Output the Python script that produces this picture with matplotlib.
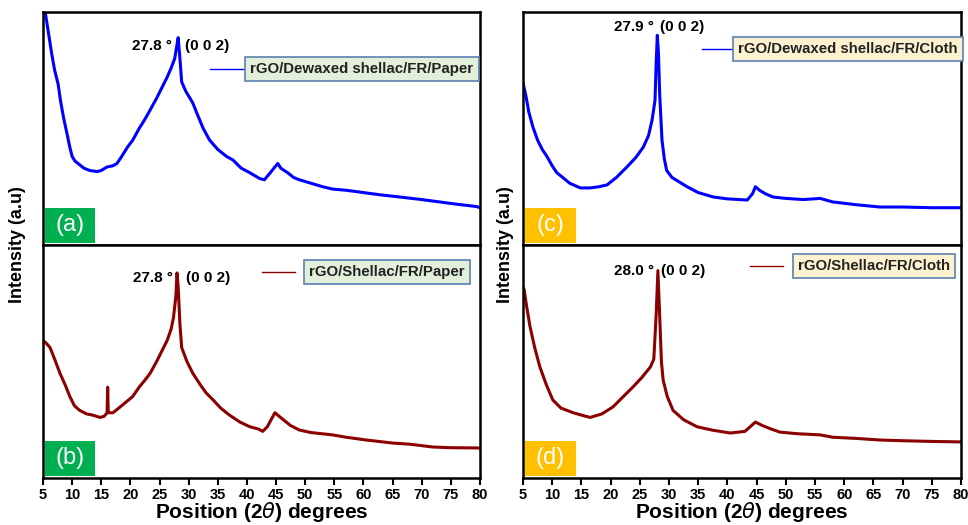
import numpy as np
import matplotlib
matplotlib.use("Agg")
import matplotlib.pyplot as plt
from matplotlib.patches import Rectangle
from matplotlib.lines import Line2D

plt.rcParams['font.family'] = ['Liberation Sans', 'DejaVu Sans']

# (a) rGO/Dewaxed shellac/FR/Paper
x_a = [5.0, 5.5, 6.0, 6.5, 7.0, 7.6, 8.0, 8.5, 9.1, 9.6, 10.0, 10.5, 11.0, 12.0, 13.0, 14.3, 15.0,
       16.0, 17.0, 17.7, 18.5, 19.5, 20.4, 21.5, 22.5, 23.4, 24.5, 25.5, 26.3, 27.0, 27.6,
       28.0, 28.2, 28.5, 28.8, 29.5, 30.7, 31.5, 32.5, 33.6, 35.0, 36.5, 37.6, 39.0, 40.5, 42.2,
       43.0, 44.0, 44.8, 45.3, 45.8, 47.0, 48.0, 49.0, 51.0, 53.0, 54.7, 57.0, 60.0, 63.0, 66.2,
       70.0, 73.0, 76.0, 79.4, 80.0]
y_a = [110, 98, 90, 82, 75, 69, 62, 55, 48, 42, 38, 36, 35, 33, 32, 31.5, 32,
       33.5, 34, 35, 38, 42, 45, 50, 54, 58, 63, 68, 72, 76, 80,
       86, 89, 80, 70, 66, 61, 56, 50, 45, 41, 38, 36.5, 33, 31, 28.5,
       28, 31, 33.5, 35, 33, 31, 29, 28, 26.5, 25, 24, 23.5, 22.5, 21.5, 20.6,
       19.5, 18.5, 17.5, 16.5, 16]

# (b) rGO/Shellac/FR/Paper
x_b = [5.0, 5.5, 6.2, 7.0, 7.9, 8.8, 9.6, 10.4, 11.3, 12.5, 13.5, 14.8, 15.5, 16.0, 16.1, 16.2,
       17.0, 18.0, 19.2, 20.4, 21.5, 22.5, 23.4, 24.5, 25.5, 26.3, 27.0, 27.4, 27.8, 28.0, 28.2,
       28.5, 28.8, 29.7, 30.7, 32.0, 33.0, 34.2, 35.5, 37.0, 38.8, 40.5, 42.0, 42.7, 43.5, 44.8,
       46.0, 47.5, 49.0, 51.0, 54.7, 57.0, 60.5, 65.0, 68.0, 71.9, 75.0, 79.6, 80.0]
y_b = [59, 58, 56, 51, 45, 40, 35, 31, 29, 27.5, 27, 26, 26.5, 28, 39, 28,
       28, 30, 32.5, 35, 39, 42, 45, 50, 55, 59, 64, 69, 78, 88, 82,
       66, 56, 50, 45, 40, 36.5, 33.5, 30, 27, 24, 22, 21, 20, 22, 28,
       25.5, 22.5, 20.6, 19.5, 18.5, 17.5, 16.3, 15, 14.5, 13.3, 13, 12.9, 12.8]

# (c) rGO/Dewaxed shellac/FR/Cloth
x_c = [5.0, 5.5, 6.0, 6.7, 7.5, 8.3, 9.1, 10.0, 10.8, 11.8, 13.0, 14.8, 16.5, 18.0, 19.4, 21.0,
       22.8, 24.3, 25.6, 26.5, 27.1, 27.6, 27.8, 28.0, 28.2, 28.4, 28.8, 29.2, 29.6, 30.5, 31.8,
       33.1, 35.0, 37.6, 40.0, 43.4, 44.3, 44.8, 45.5, 46.5, 47.8, 50.0, 53.0, 55.9, 58.0, 62.0,
       66.1, 70.0, 75.0, 79.8, 80.0]
y_c = [69.5, 64, 57, 50.6, 45, 41, 38, 34, 31, 29, 26.5, 24.5, 24.5, 25, 25.8, 29,
       33.5, 37.5, 42, 47, 53.6, 62, 78, 90, 82, 65, 45, 37, 32, 29, 27,
       25, 22.5, 20.6, 19.8, 19.3, 22, 25, 23.5, 22, 20.6, 20, 19.5, 20, 18.5, 17.3,
       16.3, 16.3, 16, 16, 16]

# (d) rGO/Shellac/FR/Cloth
x_d = [5.0, 5.2, 5.6, 6.2, 7.0, 7.9, 9.0, 10.1, 11.5, 13.6, 15.0, 16.5, 18.5, 20.4, 22.0, 23.8,
       25.3, 26.8, 27.4, 27.8, 28.1, 28.4, 28.7, 29.0, 29.7, 30.7, 32.5, 34.8, 37.5, 40.5, 43.0,
       44.8, 46.0, 47.5, 49.0, 52.0, 55.9, 58.0, 62.0, 66.1, 70.0, 75.0, 79.8, 80.0]
y_d = [82, 80.7, 74, 65, 56, 47.6, 40, 33.5, 30, 28, 27, 26, 27.5, 30.5, 34.5, 39,
       43, 47.6, 51, 70, 89, 70, 50, 42, 35, 29, 25, 22, 20.5, 19.3, 20,
       24, 22.5, 21, 19.7, 19, 18.5, 17.5, 17, 16.3, 16, 15.7, 15.5, 15.5]

ticks = np.arange(5, 81, 5)
blue = '#0000ff'
red = '#8b0000'
green = '#00b050'
orange = '#ffc000'

fig = plt.figure(figsize=(9.68, 5.25), dpi=100)
W, H = 968.0, 525.0


def make_ax(px_left, px_right, px_top, px_bottom):
    return fig.add_axes([px_left / W, 1 - px_bottom / H, (px_right - px_left) / W, (px_bottom - px_top) / H])


panels = [
    (x_a, y_a, blue, 'rGO/Dewaxed shellac/FR/Paper', '#e2efda', (0.382, 0.462, 0.755), 0.73,
     '27.8 °', (27.2, 29.3, 85.5), '(a)', green, False, (43, 480, 12, 245)),
    (x_b, y_b, red, 'rGO/Shellac/FR/Paper', '#e2efda', (0.50, 0.577, 0.884), 0.787,
     '27.8 °', (27.3, 29.6, 86.0), '(b)', green, True, (43, 480, 245, 478)),
    (x_c, y_c, blue, 'rGO/Dewaxed shellac/FR/Cloth', '#fdf2d0', (0.409, 0.484, 0.841), 0.742,
     '27.9 °', (27.4, 28.5, 93.5), '(c)', orange, False, (523, 961, 12, 245)),
    (x_d, y_d, red, 'rGO/Shellac/FR/Cloth', '#fdf2d0', (0.518, 0.594, 0.91), 0.801,
     '28.0 °', (27.4, 28.7, 89.0), '(d)', orange, True, (523, 961, 245, 478)),
]

for (xs, ys, col, leg, face, lline, lcx, ptxt, ppos, lab, labcol, bottom, box) in panels:
    ax = make_ax(*box)
    ax.plot(xs, ys, color=col, lw=2.2, solid_joinstyle='round')
    ax.set_xlim(5, 80)
    ax.set_ylim(0, 100)
    ax.set_yticks([])
    for s in ax.spines.values():
        s.set_linewidth(1.8)
    if bottom:
        ax.set_xticks(ticks)
        ax.set_xticklabels([str(t) for t in ticks], fontsize=10.5, fontweight='bold')
        ax.tick_params(axis='x', direction='out', length=5, width=1.5, pad=2)
        ax.set_xlabel(r'Position (2$\theta$) degrees', fontsize=15, fontweight='bold', labelpad=-1)
    else:
        ax.set_xticks([])

    # legend: short line + boxed text
    ax.add_line(Line2D([lline[0], lline[1]], [lline[2], lline[2]], transform=ax.transAxes,
                       color=col, lw=1))
    ax.text(lcx, lline[2], leg, transform=ax.transAxes, ha='center', va='center',
            fontsize=10.8, fontweight='bold', color='#222222',
            bbox=dict(boxstyle='square,pad=0.35', facecolor=face, edgecolor='#5b7fb0', lw=1.2))

    # peak annotation
    ax.text(ppos[0], ppos[2], ptxt, ha='right', va='center', fontsize=11, fontweight='bold')
    ax.text(ppos[1], ppos[2], '(0 0 2)', ha='left', va='center', fontsize=11, fontweight='bold')

    # panel label
    ax.add_patch(Rectangle((0.005, 0.01), 0.115, 0.148, transform=ax.transAxes,
                           facecolor=labcol, edgecolor='none'))
    ax.text(0.0625, 0.084, lab, transform=ax.transAxes, ha='center', va='center',
            fontsize=17, color='white')

fig.text(18 / W, 1 - 245 / H, 'Intensity (a.u)', rotation=90, ha='center', va='center',
         fontsize=13, fontweight='bold')
fig.text(505 / W, 1 - 245 / H, 'Intensity (a.u)', rotation=90, ha='center', va='center',
         fontsize=13, fontweight='bold')

fig.savefig('out.png', dpi=100)
